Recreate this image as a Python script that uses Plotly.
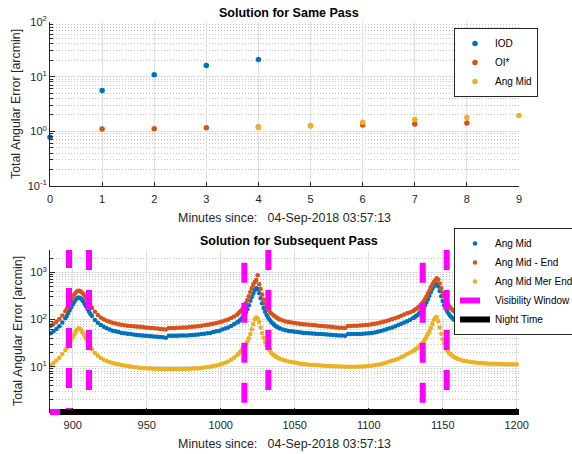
import plotly.graph_objects as go

FONT = "Liberation Sans, Arial, Helvetica, sans-serif"
BLUE, RED, YEL = "#0072BD", "#D95319", "#EDB120"
AXC = "#262626"

# ---------------- Top panel: Solution for Same Pass ----------------
iod_x = [0, 1, 2, 3, 4]
iod_err = [0.78, 5.6, 10.8, 16.0, 20.5]
oi_x = [1, 2, 3, 4, 5, 6, 7, 8]
oi_err = [1.10, 1.11, 1.16, 1.20, 1.26, 1.30, 1.36, 1.42]
angmid_x = [4, 5, 6, 7, 8, 9]
angmid_err = [1.17, 1.27, 1.46, 1.64, 1.80, 1.94]

top_xticks = [0, 1, 2, 3, 4, 5, 6, 7, 8, 9]
top_yticks = [0.1, 1, 10, 100]
top_yticktext = ["10<sup>-1</sup>", "10<sup>0</sup>", "10<sup>1</sup>", "10<sup>2</sup>"]

# ---------------- Bottom panel: Solution for Subsequent Pass ----------------
minutes = (list(range(885, 896, 2)) + list(range(896, 914)) + list(range(915, 1012, 2))
           + list(range(1012, 1041)) + list(range(1042, 1131, 2)) + list(range(1131, 1161))
           + list(range(1162, 1201, 2)))

ang_mid = [
    51, 56, 63, 72, 86, 106,
    119, 137, 158, 182, 208, 235, 262, 283, 292, 286, 268, 243, 215, 190, 167, 148, 131, 118,
    98, 85, 76, 70, 65, 61, 58, 56, 54, 52, 51, 50, 49, 48, 47, 46.5, 46, 45, 44.5, 44,
    43.5, 43, 42.5, 42, 41, 45, 45, 45, 45, 45.5, 45.5, 46, 46.5, 47, 47.5, 48, 49, 50, 51, 52,
    54, 56, 58, 61, 64, 68, 73, 79, 86,
    90, 96, 104, 113, 124, 142, 165, 200, 250, 300, 355, 410, 460, 440, 360, 280, 220, 175, 145, 125,
    110, 99, 90, 83, 78, 73, 70, 67, 64,
    61, 59, 57, 56, 55, 54, 53, 52, 51.5, 51, 50.5, 50, 49.5, 49, 48.5, 48, 47.5, 47, 46.5, 46,
    45.5, 45, 49, 49, 49, 49, 49.5, 50, 50.5, 51, 52, 53, 55, 57, 59, 62, 65, 68, 72, 76,
    81, 86, 92, 99, 107,
    112, 118, 125, 134, 145, 158, 175, 198, 228, 268, 318, 380, 445, 505, 550, 565, 500, 400, 310, 245,
    200, 170, 148, 132, 120, 111, 103, 97, 92, 88,
    84, 80, 77, 75, 73, 71, 69, 67.5, 66, 65, 64, 63, 62, 61, 60, 59, 58.5, 58, 57.5, 57,
]

ang_mid_end = [
    74, 80, 89, 102, 122, 150,
    168, 195, 225, 260, 298, 333, 368, 395, 408, 400, 378, 350, 315, 282, 252, 222, 196, 175,
    145, 124, 110, 101, 94, 89, 85, 82, 79, 77, 75, 74, 73, 72, 71, 70, 69, 68, 67, 66,
    65, 64, 63, 62, 61, 66, 66, 66, 67, 67, 68, 68, 69, 70, 71, 72, 74, 75, 77, 79,
    81, 84, 87, 91, 95, 100, 107, 115, 126,
    135, 145, 157, 172, 190, 220, 258, 310, 380, 460, 545, 625, 690, 860, 560, 440, 340, 265, 218, 186,
    164, 148, 136, 127, 120, 114, 109, 104, 100,
    95, 91, 88, 86, 84, 82, 80, 79, 78, 77, 76, 75, 74, 73, 72, 71, 70, 69, 68, 67,
    66.5, 66, 73, 73, 73.5, 74, 74.5, 75, 76, 77, 79, 81, 83, 86, 89, 93, 97, 102, 107, 113,
    120, 127, 135, 143, 152,
    158, 166, 175, 186, 200, 218, 240, 270, 305, 355, 410, 480, 550, 620, 690, 745, 700, 580, 460, 370,
    310, 262, 228, 200, 182, 167, 155, 146, 139, 133,
    124, 117, 112, 108, 104, 101, 98, 96, 94, 92, 91, 90, 89, 88, 87, 86, 85, 84, 83, 82,
]

ang_mid_mer_end = [
    10.8, 12, 13.5, 15.5, 18.5, 22.5,
    25, 28.5, 32.5, 37, 42, 48, 55, 61, 65, 63, 58, 51, 45, 39, 34, 29.5, 26, 23.5,
    19.5, 17, 15.3, 14, 13.2, 12.5, 12, 11.6, 11.2, 10.9, 10.6, 10.3, 10.1, 9.9, 9.7, 9.5, 9.4, 9.3, 9.2, 9.1,
    9.0, 9.0, 8.9, 8.9, 8.9, 8.9, 8.9, 8.9, 8.9, 8.9, 8.9, 9.0, 9.0, 9.1, 9.2, 9.3, 9.4, 9.6, 9.8, 10.0,
    10.3, 10.6, 11.0, 11.5, 12.1, 12.9, 14.0, 15.4, 17.5,
    18.8, 20.3, 22.2, 24.5, 26.5, 29.5, 34, 40, 49, 62, 80, 100, 110, 105, 88, 68, 52, 41, 33, 28,
    24.5, 22, 20, 18.6, 17.5, 16.6, 15.9, 15.3, 14.8,
    14.0, 13.4, 12.9, 12.5, 12.2, 11.9, 11.6, 11.4, 11.2, 11.0, 10.9, 10.8, 10.7, 10.6, 10.5, 10.4, 10.3, 10.2, 10.2, 10.1,
    10.1, 10.0, 10.0, 10.0, 10.0, 10.0, 10.1, 10.1, 10.2, 10.3, 10.5, 10.7, 11.0, 11.3, 11.7, 12.2, 12.8, 13.5, 14.1, 14.8,
    15.8, 17.0, 18.5, 20.0, 21.5,
    22.5, 23.7, 25, 26.7, 28.7, 31, 34, 38, 43, 49, 56, 66, 80, 97, 110, 113, 92, 68, 50, 38,
    30.5, 25.5, 22, 20, 18.6, 17.5, 16.6, 15.9, 15.3, 14.8,
    14.0, 13.4, 13.0, 12.7, 12.4, 12.2, 12.0, 11.9, 11.8, 11.7, 11.6, 11.5, 11.5, 11.4, 11.4, 11.3, 11.3, 11.3, 11.2, 11.2,
]

# visibility windows (start / end minute of each pass) and vertical extent of each marker line
vis_start = [897.5, 1016.0, 1136.5]
vis_end = [911.0, 1032.2, 1152.7]
vis_start_top = [3275, 1596, 1596]
vis_end_top = [2965, 2965, 2965]
vis_bottom = 1.0

# night-time interval and the preceding (day) interval marked at the bottom
day_span = [884.6, 891.5]
night_span = [891.5, 1202.0]

bot_xticks = [900, 950, 1000, 1050, 1100, 1150, 1200]
bot_yticks = [10, 100, 1000]
bot_yticktext = ["10<sup>1</sup>", "10<sup>2</sup>", "10<sup>3</sup>"]

# build visibility line trace (each line a separate sub-path)
vis_x, vis_y = [], []
for t0, t1, a, b in zip(vis_start, vis_end, vis_start_top, vis_end_top):
    vis_x += [t0, t0, None, t1, t1, None]
    vis_y += [a, vis_bottom, None, b, vis_bottom, None]

fig = go.Figure()

# top traces
fig.add_trace(go.Scatter(x=iod_x, y=iod_err, mode="markers", name="IOD", cliponaxis=False,
                         marker=dict(color=BLUE, size=5.5), xaxis="x", yaxis="y", legend="legend"))
fig.add_trace(go.Scatter(x=oi_x, y=oi_err, mode="markers", name="OI*", cliponaxis=False,
                         marker=dict(color=RED, size=5.5), xaxis="x", yaxis="y", legend="legend"))
fig.add_trace(go.Scatter(x=angmid_x, y=angmid_err, mode="markers", name="Ang Mid", cliponaxis=False,
                         marker=dict(color=YEL, size=5.5), xaxis="x", yaxis="y", legend="legend"))

# bottom traces
fig.add_trace(go.Scatter(x=minutes, y=ang_mid, mode="markers", name="Ang Mid",
                         marker=dict(color=BLUE, size=4.5), xaxis="x2", yaxis="y2", legend="legend2"))
fig.add_trace(go.Scatter(x=minutes, y=ang_mid_end, mode="markers", name="Ang Mid - End",
                         marker=dict(color=RED, size=4.5), xaxis="x2", yaxis="y2", legend="legend2"))
fig.add_trace(go.Scatter(x=minutes, y=ang_mid_mer_end, mode="markers", name="Ang Mid Mer End",
                         marker=dict(color=YEL, size=4.5), xaxis="x2", yaxis="y2", legend="legend2"))
fig.add_trace(go.Scatter(x=vis_x, y=vis_y, mode="lines", name="Visibility Window",
                         line=dict(color="#FF00FF", width=6, dash="20px,20px"),
                         connectgaps=False, xaxis="x2", yaxis="y2", legend="legend2"))

fig.add_shape(type="line", xref="x2", yref="y2 domain", x0=day_span[0], x1=day_span[1], y0=0, y1=0,
              line=dict(color="#FF00FF", width=6), layer="above")
fig.add_shape(type="line", xref="x2", yref="y2 domain", x0=night_span[0], x1=night_span[1], y0=0, y1=0,
              line=dict(color="black", width=6), layer="above",
              showlegend=True, name="Night Time", legend="legend2")

axis_common = dict(showline=True, linecolor=AXC, linewidth=1, mirror=False, ticks="inside",
                   tickcolor=AXC, tickwidth=1, showgrid=True, gridcolor="#e1e1e1", gridwidth=1,
                   zeroline=False, automargin=False,
                   tickfont=dict(size=11, color=AXC, family=FONT))
minor_log = dict(dtick="D1", ticks="inside", ticklen=3, tickcolor=AXC, showgrid=True,
                 gridcolor="#c4c4c4", griddash="1px,2px", gridwidth=1)

xlabel = "Minutes since:   04-Sep-2018 03:57:13"
ylabel = "Total Angular Error [arcmin]"
title_font = dict(size=12.4, color=AXC, family=FONT)

fig.update_layout(
    width=572, height=454,
    margin=dict(l=50, r=53, t=22, b=42, autoexpand=False),
    paper_bgcolor="white", plot_bgcolor="white",
    font=dict(family=FONT, size=11, color=AXC),
    xaxis=dict(axis_common, domain=[0, 1], anchor="y", range=[0, 9], tickmode="array",
               tickvals=top_xticks, ticklen=4, ticklabelstandoff=3,
               title=dict(text=xlabel, font=title_font, standoff=9)),
    yaxis=dict(axis_common, domain=[0.5795, 1], anchor="x", type="log", range=[-1, 2],
               tickmode="array", tickvals=top_yticks, ticktext=top_yticktext, ticklen=5,
               minor=minor_log,
               title=dict(text=ylabel, font=title_font, standoff=4)),
    xaxis2=dict(axis_common, domain=[0, 1], anchor="y2", range=[884.66, 1201.55], tickmode="array",
                tickvals=bot_xticks, ticklen=4, ticklabelstandoff=3,
                title=dict(text=xlabel, font=title_font, standoff=9)),
    yaxis2=dict(axis_common, domain=[0, 0.4154], anchor="x2", type="log", range=[0.04, 3.472],
                tickmode="array", tickvals=bot_yticks, ticktext=bot_yticktext, ticklen=5,
                minor=minor_log,
                title=dict(text=ylabel, font=title_font, standoff=4)),
    legend=dict(x=0.8614, y=0.9846, xanchor="left", yanchor="top", bgcolor="white",
                bordercolor=AXC, borderwidth=1, font=dict(size=10, family=FONT, color="black")),
    legend2=dict(x=0.8614, y=0.4718, xanchor="left", yanchor="top", bgcolor="white",
                 bordercolor=AXC, borderwidth=1, font=dict(size=10, family=FONT, color="black")),
    annotations=[
        dict(text="<b>Solution for Same Pass</b>", x=0.51, y=1.0231, xref="paper", yref="paper",
             xanchor="center", yanchor="middle", showarrow=False,
             font=dict(size=12.5, color="black", family=FONT)),
        dict(text="<b>Solution for Subsequent Pass</b>", x=0.51, y=0.4392, xref="paper", yref="paper",
             xanchor="center", yanchor="middle", showarrow=False,
             font=dict(size=12.5, color="black", family=FONT)),
    ],
)

fig.write_html("out.html")
